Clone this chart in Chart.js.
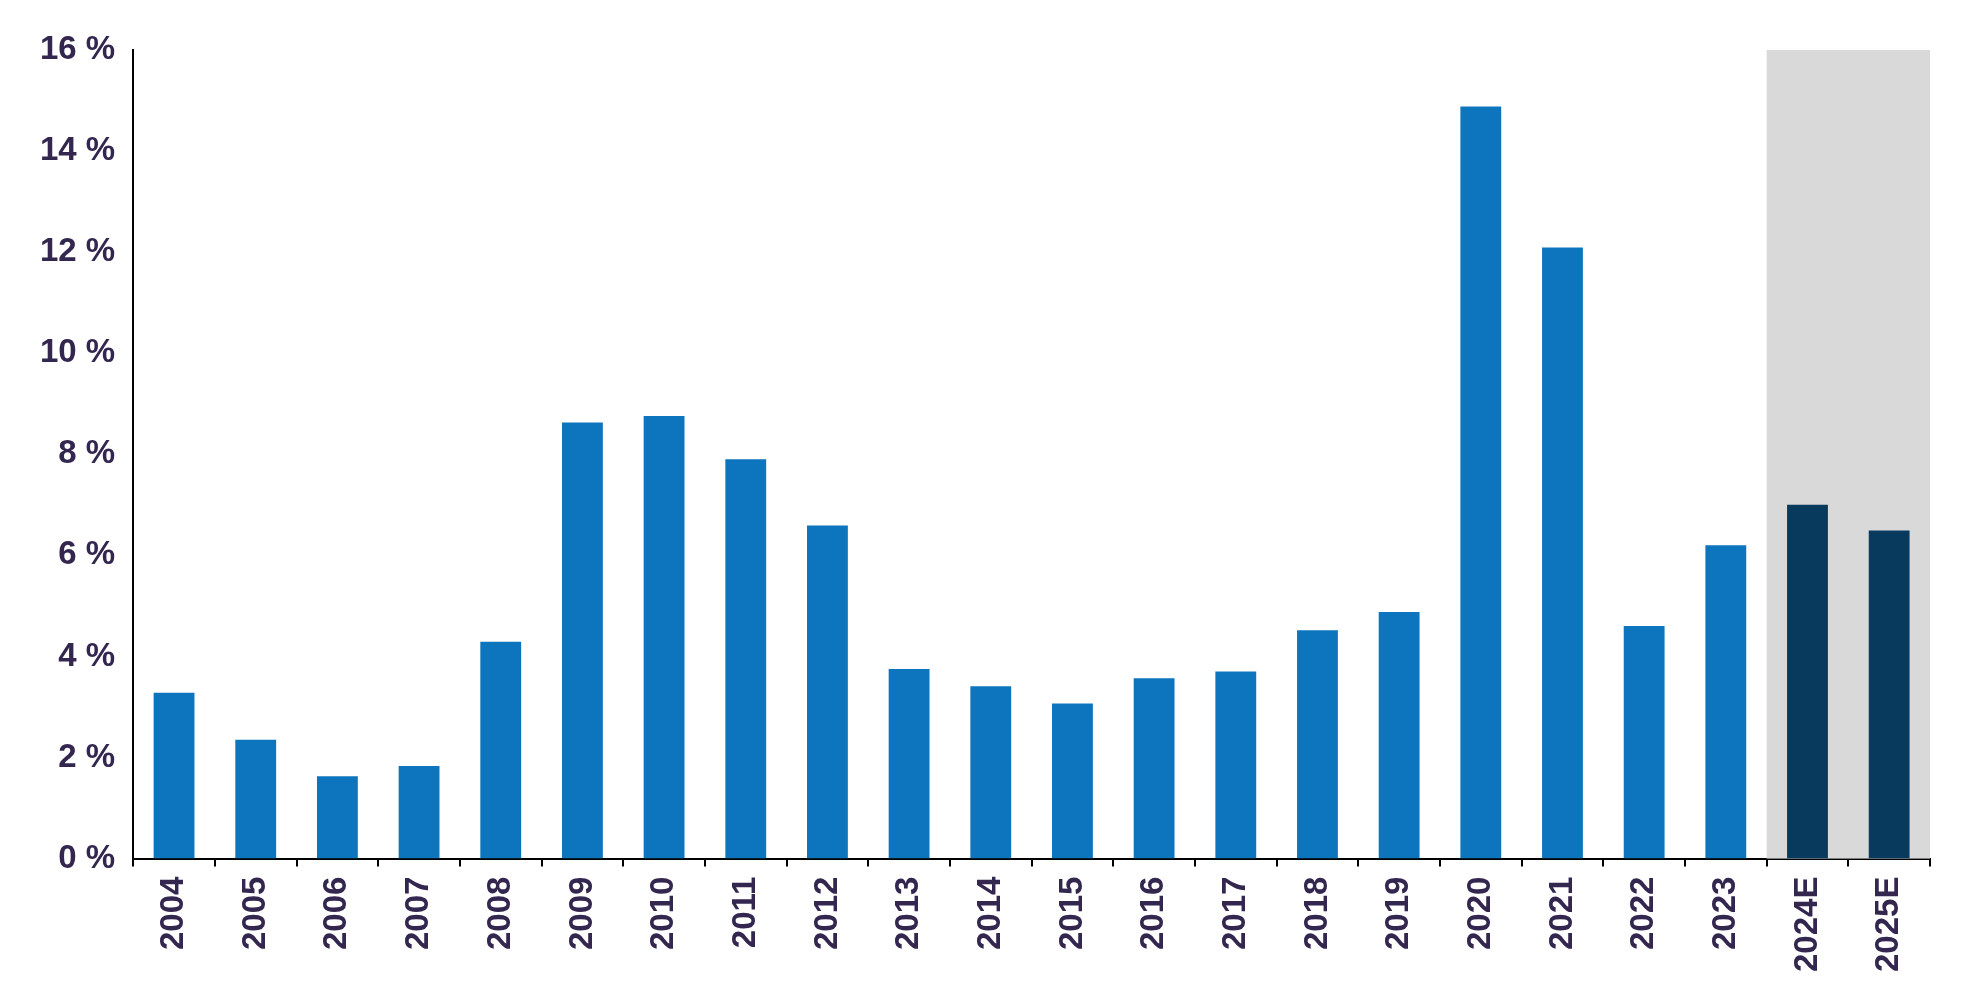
<!DOCTYPE html><html><head><script src="https://cdn.jsdelivr.net/npm/chart.js"></script>
<style>body{margin:0;background:#fff}#w{width:1980px;height:990px}</style></head><body><div id="w"><canvas id="c"></canvas></div>
<script>
const categories=["2004","2005","2006","2007","2008","2009","2010","2011","2012","2013","2014","2015","2016","2017","2018","2019","2020","2021","2022","2023","2024E","2025E"];
const values=[3.28,2.35,1.63,1.83,4.29,8.63,8.76,7.9,6.59,3.75,3.41,3.07,3.57,3.7,4.52,4.88,14.88,12.09,4.6,6.2,7.0,6.49];
const forecastCats=["2024E","2025E"];
const txt="#33264f";
const shade={id:"shade",beforeDatasetsDraw(ch){const x=ch.scales.x,y=ch.scales.y,c=ch.ctx;
 const i0=categories.indexOf(forecastCats[0]),i1=categories.indexOf(forecastCats[forecastCats.length-1]);
 const w=x.getPixelForValue(1)-x.getPixelForValue(0);
 const l=x.getPixelForValue(i0)-w/2,r=x.getPixelForValue(i1)+w/2;
 c.save();c.fillStyle="#d9d9d9";c.fillRect(l,y.getPixelForValue(16),r-l,y.getPixelForValue(0)-y.getPixelForValue(16));c.restore();}};
new Chart(document.getElementById("c"),{type:"bar",data:{labels:categories,datasets:[{data:values,
 backgroundColor:categories.map(c=>forecastCats.includes(c)?"#083a5e":"#0c75bd"),barPercentage:0.5,categoryPercentage:1}]},
 options:{responsive:true,maintainAspectRatio:false,animation:false,layout:{padding:{top:50,right:50,left:22,bottom:8}},
 plugins:{legend:{display:false},tooltip:{enabled:false}},
 scales:{y:{min:0,max:16,ticks:{stepSize:2,callback:v=>v+" %",color:txt,font:{family:"Liberation Sans",weight:"bold",size:33},padding:18},
   grid:{display:false,drawTicks:false},border:{color:"#000",width:2}},
  x:{ticks:{color:txt,font:{family:"Liberation Sans",weight:"bold",size:33},maxRotation:90,minRotation:90,padding:10},
   grid:{display:true,drawOnChartArea:false,offset:true,tickLength:8,color:"#000",lineWidth:2},border:{color:"#000",width:2}}}},
 plugins:[shade]});
</script></body></html>
